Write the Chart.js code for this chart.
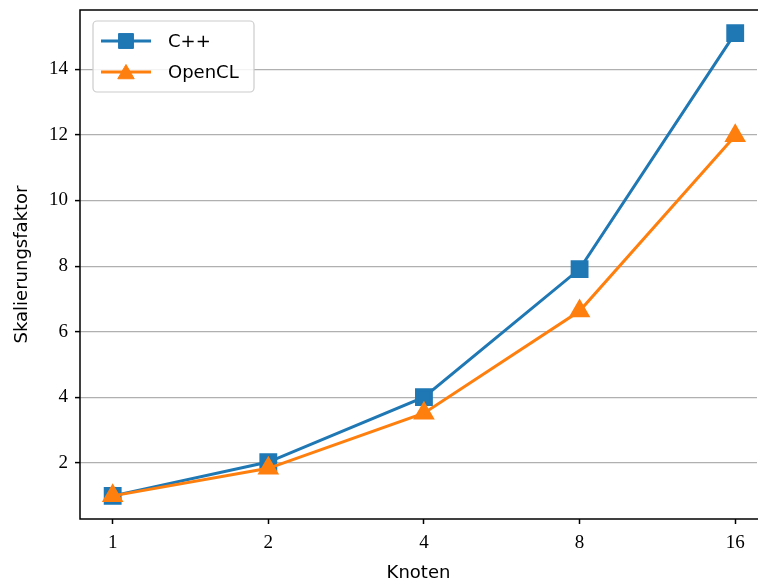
<!DOCTYPE html>
<html>
<head>
<meta charset="utf-8">
<script src="https://cdn.jsdelivr.net/npm/chart.js@4/dist/chart.umd.min.js"></script>
<style>
  html, body { margin: 0; padding: 0; background: #fff; }
  #wrap { width: 758px; height: 584px; }
</style>
</head>
<body>
<div id="wrap"><canvas id="chart"></canvas></div>
<script>
const nodes = [1, 2, 4, 8, 16];
const cppScaling = [1.0, 2.03, 4.01, 7.91, 15.10];
const openclScaling = [1.0, 1.84, 3.52, 6.63, 11.97];
const yTicks = [2, 4, 6, 8, 10, 12, 14];
const seriesNames = ["C++", "OpenCL"];

const BLUE = "#1f77b4";
const ORANGE = "#ff7f0e";
const SERIF = "'Liberation Serif', 'DejaVu Serif', serif";
const SANS = "'DejaVu Sans', sans-serif";

const points = (values) => values.map((v, i) => ({ x: Math.log2(nodes[i]), y: v }));

// Black box round the plot area (the right side runs off the canvas as in the picture)
const frame = {
  id: "frame",
  afterDraw(chart) {
    const { ctx, chartArea: a } = chart;
    ctx.save();
    ctx.strokeStyle = "#000";
    ctx.lineWidth = 1.5;
    ctx.strokeRect(a.left, a.top, a.right - a.left + 4, a.bottom - a.top);
    ctx.restore();
  }
};

// matplotlib style legend: line + marker, inside the top left corner
const legendBox = {
  id: "legendBox",
  afterDatasetsDraw(chart) {
    const { ctx, chartArea: a } = chart;
    const x = a.left + 13, y = a.top + 11, w = 161, h = 71;
    ctx.save();
    ctx.beginPath();
    ctx.roundRect(x, y, w, h, 4);
    ctx.fillStyle = "rgba(255,255,255,0.85)";
    ctx.fill();
    ctx.strokeStyle = "#cccccc";
    ctx.lineWidth = 1.2;
    ctx.stroke();
    chart.data.datasets.forEach((ds, i) => {
      const ly = y + 20 + i * 31;
      ctx.strokeStyle = ds.borderColor;
      ctx.lineWidth = ds.borderWidth;
      ctx.beginPath();
      ctx.moveTo(x + 8, ly);
      ctx.lineTo(x + 58, ly);
      ctx.stroke();
      ctx.fillStyle = ds.backgroundColor;
      ctx.lineWidth = 1;
      Chart.helpers.drawPoint(ctx, {
        pointStyle: ds.pointStyle,
        radius: ds.pointRadius,
        borderWidth: 1,
        rotation: 0
      }, x + 33, ly + (ds.pointStyle === "triangle" ? 2 : 0));
      ctx.fillStyle = "#000";
      ctx.font = "18px " + SANS;
      ctx.textBaseline = "middle";
      ctx.fillText(ds.label, x + 75, ly + 1);
    });
    ctx.restore();
  }
};

function series(label, values, color, style, radius, order) {
  return {
    label,
    data: points(values),
    borderColor: color,
    backgroundColor: color,
    pointBackgroundColor: color,
    pointBorderColor: color,
    borderWidth: 3,
    pointStyle: style,
    pointRadius: radius,
    pointHoverRadius: radius,
    order
  };
}

// tick labels near the ends must not push the plot area inwards
function noOverhang(scale) {
  scale.paddingLeft = 0;
  scale.paddingRight = 0;
  scale.paddingTop = 0;
  scale.paddingBottom = 0;
}

new Chart(document.getElementById("chart"), {
  type: "line",
  data: {
    datasets: [
      series(seriesNames[0], cppScaling, BLUE, "rect", 10.5, 2),
      series(seriesNames[1], openclScaling, ORANGE, "triangle", 9.5, 1)
    ]
  },
  options: {
    responsive: true,
    maintainAspectRatio: false,
    animation: false,
    layout: { autoPadding: false, padding: { top: 10, right: 1, left: 0, bottom: 0 } },
    plugins: { legend: { display: false }, tooltip: { enabled: false } },
    scales: {
      x: {
        type: "linear",
        min: -0.21,
        max: 4.14,
        afterBuildTicks: (scale) => { scale.ticks = nodes.map((n) => ({ value: Math.log2(n) })); },
        afterFit: (scale) => { scale.height = 65; noOverhang(scale); },
        border: { display: false },
        grid: { drawOnChartArea: false, tickLength: 5, tickColor: "#000", tickWidth: 1.5 },
        ticks: {
          color: "#000",
          font: { family: SERIF, size: 19 },
          padding: 8,
          maxRotation: 0,
          callback: (v) => String(Math.round(2 ** v))
        },
        title: {
          display: true,
          text: "Knoten",
          color: "#000",
          font: { family: SANS, size: 18 },
          padding: { top: 0, bottom: 0 }
        }
      },
      y: {
        min: 0.295,
        max: 15.805,
        afterBuildTicks: (scale) => { scale.ticks = yTicks.map((v) => ({ value: v })); },
        afterFit: (scale) => { scale.width = 80; noOverhang(scale); },
        border: { display: false },
        grid: { color: "#b0b0b0", lineWidth: 1.2, tickLength: 5, tickColor: "#000", tickWidth: 1.5 },
        ticks: {
          color: "#000",
          font: { family: SERIF, size: 19 },
          padding: 7
        },
        title: {
          display: true,
          text: "Skalierungsfaktor",
          color: "#000",
          font: { family: SANS, size: 18 },
          padding: { top: 12, bottom: 0 }
        }
      }
    }
  },
  plugins: [frame, legendBox]
});
</script>
</body>
</html>
